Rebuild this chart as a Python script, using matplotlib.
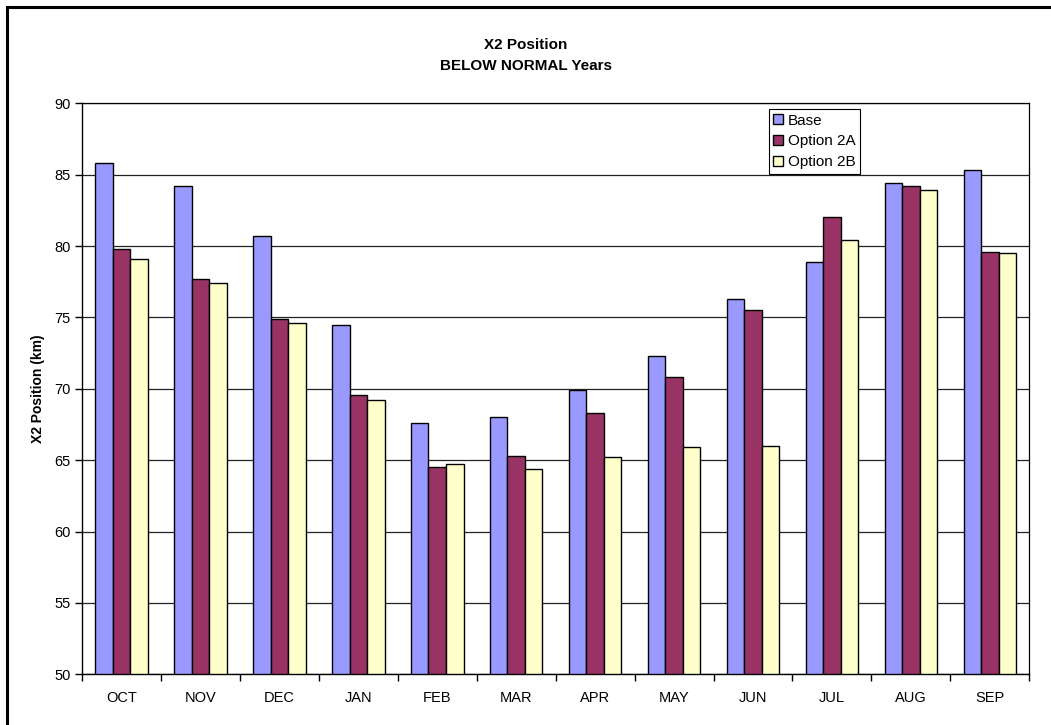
import matplotlib
matplotlib.use("Agg")
import matplotlib.pyplot as plt
from matplotlib.patches import Rectangle
import numpy as np

months = ["OCT", "NOV", "DEC", "JAN", "FEB", "MAR", "APR", "MAY", "JUN", "JUL", "AUG", "SEP"]
base = [85.8, 84.2, 80.7, 74.5, 67.6, 68.0, 69.9, 72.3, 76.3, 78.9, 84.4, 85.3]
opt2a = [79.8, 77.7, 74.9, 69.6, 64.5, 65.3, 68.3, 70.8, 75.5, 82.0, 84.2, 79.6]
opt2b = [79.1, 77.4, 74.6, 69.2, 64.7, 64.4, 65.2, 65.9, 66.0, 80.4, 83.9, 79.5]
series_names = ["Base", "Option 2A", "Option 2B"]
colors = ["#9999FF", "#993366", "#FFFFCC"]

plt.rcParams['font.family'] = ['Liberation Sans', 'DejaVu Sans']

fig = plt.figure(figsize=(10.51, 7.25), dpi=100)
ax = fig.add_axes([82/1051, 1 - 674.3/725, (1029.3-82)/1051, (674.3-103.3)/725])

x = np.arange(len(months))
w = 0.222
for i, (vals, name, c) in enumerate(zip([base, opt2a, opt2b], series_names, colors)):
    ax.bar(x + (i - 1) * w, np.array(vals) - 50, width=w, bottom=50, color=c,
           edgecolor="black", linewidth=1.0, label=name, zorder=3)

ax.set_xlim(-0.5, len(months) - 0.5)
ax.set_ylim(50, 90)
ax.set_yticks(np.arange(50, 91, 5))
ax.set_xticks(x)
ax.set_xticklabels(months, fontsize=10.5)
ax.set_xticks(np.arange(-0.5, len(months), 1), minor=True)
ax.tick_params(axis='x', which='major', length=0, pad=12)
ax.tick_params(axis='x', which='minor', length=5, width=1, direction='out')
ax.tick_params(axis='y', length=5, width=1, direction='out', labelsize=10.5, pad=3)
ax.yaxis.grid(True, color="#222222", linewidth=0.9, zorder=0)
ax.set_axisbelow(True)
for s in ['top', 'right']:
    ax.spines[s].set_color('black')
    ax.spines[s].set_linewidth(0.9)
for s in ['left', 'bottom']:
    ax.spines[s].set_linewidth(1.0)

ax.set_ylabel("X2 Position (km)", fontsize=10, fontweight='bold', labelpad=7)

fig.text(0.5, 1 - 45/725, "X2 Position", ha='center', va='center', fontsize=11, fontweight='bold')
fig.text(0.5, 1 - 66/725, "BELOW NORMAL Years", ha='center', va='center', fontsize=11, fontweight='bold')

leg = ax.legend(loc='upper left', bbox_to_anchor=(0.725, 0.99), fontsize=11,
                frameon=True, fancybox=False, shadow=False, framealpha=1,
                edgecolor='black', handlelength=0.65, handleheight=0.65,
                handletextpad=0.3, borderpad=0.3, labelspacing=0.45, borderaxespad=0)
leg.get_frame().set_linewidth(0.8)
leg.set_zorder(5)

fig.patches.append(Rectangle((7/1051, -0.1), 1.2, (725-7)/725 + 0.1, transform=fig.transFigure,
                             fill=False, edgecolor='black', linewidth=2.2))

fig.savefig("out.png", dpi=100)
